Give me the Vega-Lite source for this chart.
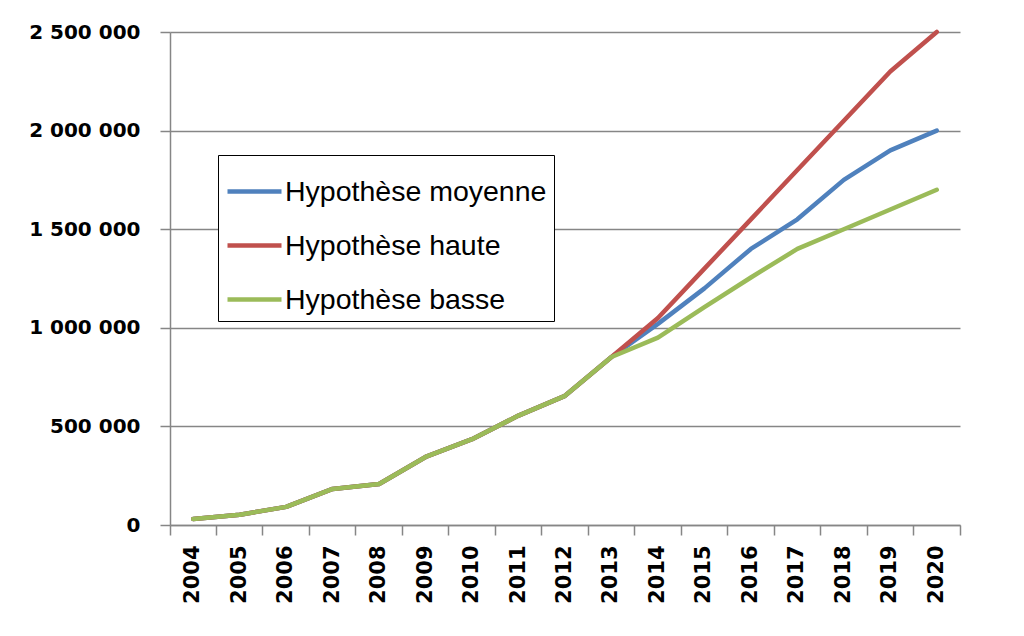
{
  "$schema": "https://vega.github.io/schema/vega-lite/v6.json",
  "width": 790,
  "height": 493,
  "autosize": {"type": "none"},
  "padding": {"left": 170, "top": 32, "right": 64, "bottom": 111},
  "background": "white",
  "data": {
    "values": [
      {"year": "2004", "series": "Hypothèse moyenne", "value": 30000},
      {"year": "2005", "series": "Hypothèse moyenne", "value": 52000},
      {"year": "2006", "series": "Hypothèse moyenne", "value": 92000},
      {"year": "2007", "series": "Hypothèse moyenne", "value": 183000},
      {"year": "2008", "series": "Hypothèse moyenne", "value": 208000},
      {"year": "2009", "series": "Hypothèse moyenne", "value": 345000},
      {"year": "2010", "series": "Hypothèse moyenne", "value": 435000},
      {"year": "2011", "series": "Hypothèse moyenne", "value": 555000},
      {"year": "2012", "series": "Hypothèse moyenne", "value": 655000},
      {"year": "2013", "series": "Hypothèse moyenne", "value": 852000},
      {"year": "2014", "series": "Hypothèse moyenne", "value": 1020000},
      {"year": "2015", "series": "Hypothèse moyenne", "value": 1200000},
      {"year": "2016", "series": "Hypothèse moyenne", "value": 1400000},
      {"year": "2017", "series": "Hypothèse moyenne", "value": 1550000},
      {"year": "2018", "series": "Hypothèse moyenne", "value": 1750000},
      {"year": "2019", "series": "Hypothèse moyenne", "value": 1900000},
      {"year": "2020", "series": "Hypothèse moyenne", "value": 2000000},
      {"year": "2004", "series": "Hypothèse haute", "value": 30000},
      {"year": "2005", "series": "Hypothèse haute", "value": 52000},
      {"year": "2006", "series": "Hypothèse haute", "value": 92000},
      {"year": "2007", "series": "Hypothèse haute", "value": 183000},
      {"year": "2008", "series": "Hypothèse haute", "value": 208000},
      {"year": "2009", "series": "Hypothèse haute", "value": 345000},
      {"year": "2010", "series": "Hypothèse haute", "value": 435000},
      {"year": "2011", "series": "Hypothèse haute", "value": 555000},
      {"year": "2012", "series": "Hypothèse haute", "value": 655000},
      {"year": "2013", "series": "Hypothèse haute", "value": 852000},
      {"year": "2014", "series": "Hypothèse haute", "value": 1050000},
      {"year": "2015", "series": "Hypothèse haute", "value": 1300000},
      {"year": "2016", "series": "Hypothèse haute", "value": 1550000},
      {"year": "2017", "series": "Hypothèse haute", "value": 1800000},
      {"year": "2018", "series": "Hypothèse haute", "value": 2050000},
      {"year": "2019", "series": "Hypothèse haute", "value": 2300000},
      {"year": "2020", "series": "Hypothèse haute", "value": 2500000},
      {"year": "2004", "series": "Hypothèse basse", "value": 30000},
      {"year": "2005", "series": "Hypothèse basse", "value": 52000},
      {"year": "2006", "series": "Hypothèse basse", "value": 92000},
      {"year": "2007", "series": "Hypothèse basse", "value": 183000},
      {"year": "2008", "series": "Hypothèse basse", "value": 208000},
      {"year": "2009", "series": "Hypothèse basse", "value": 345000},
      {"year": "2010", "series": "Hypothèse basse", "value": 435000},
      {"year": "2011", "series": "Hypothèse basse", "value": 555000},
      {"year": "2012", "series": "Hypothèse basse", "value": 655000},
      {"year": "2013", "series": "Hypothèse basse", "value": 852000},
      {"year": "2014", "series": "Hypothèse basse", "value": 950000},
      {"year": "2015", "series": "Hypothèse basse", "value": 1105000},
      {"year": "2016", "series": "Hypothèse basse", "value": 1255000},
      {"year": "2017", "series": "Hypothèse basse", "value": 1400000},
      {"year": "2018", "series": "Hypothèse basse", "value": 1500000},
      {"year": "2019", "series": "Hypothèse basse", "value": 1600000},
      {"year": "2020", "series": "Hypothèse basse", "value": 1700000}
    ]
  },
  "mark": {"type": "line", "strokeWidth": 4.5, "strokeCap": "round", "strokeJoin": "round"},
  "encoding": {
    "x": {
      "field": "year",
      "type": "ordinal",
      "scale": {"type": "band", "paddingInner": 0, "paddingOuter": 0},
      "axis": {
        "title": null,
        "bandPosition": 1,
        "tickExtra": true,
        "labelOffset": 0,
        "labelAngle": -90,
        "labelAlign": "right",
        "labelBaseline": "middle",
        "labelFont": "DejaVu Sans",
        "labelFontWeight": "bold",
        "labelFontSize": 21,
        "labelColor": "black",
        "labelPadding": 10,
        "tickSize": 10,
        "tickColor": "#868686",
        "tickWidth": 1.5,
        "domainColor": "#868686",
        "domainWidth": 1.5,
        "grid": false
      }
    },
    "y": {
      "field": "value",
      "type": "quantitative",
      "scale": {"domain": [0, 2500000], "nice": false, "zero": true},
      "axis": {
        "title": null,
        "values": [0, 500000, 1000000, 1500000, 2000000, 2500000],
        "labelExpr": "replace(replace(format(datum.value, ','), ',', ' '), ',', ' ')",
        "labelFont": "DejaVu Sans",
        "labelFontWeight": "bold",
        "labelFontSize": 20,
        "labelColor": "black",
        "labelPadding": 20,
        "tickSize": 10,
        "tickColor": "#868686",
        "tickWidth": 1.5,
        "domainColor": "#868686",
        "domainWidth": 1.5,
        "grid": true,
        "gridColor": "#868686",
        "gridWidth": 1.5
      }
    },
    "color": {
      "field": "series",
      "type": "nominal",
      "scale": {
        "domain": ["Hypothèse moyenne", "Hypothèse haute", "Hypothèse basse"],
        "range": ["#4F81BD", "#C0504D", "#9BBB59"]
      },
      "legend": {
        "title": null,
        "orient": "none",
        "legendX": 48,
        "legendY": 123,
        "symbolType": "stroke",
        "symbolSize": 2916,
        "symbolStrokeWidth": 4.5,
        "labelFont": "Liberation Sans",
        "labelFontSize": 28.5,
        "labelColor": "black",
        "labelOffset": 1,
        "labelLimit": 400,
        "rowPadding": 10,
        "padding": 7,
        "strokeColor": "black",
        "fillColor": "white"
      }
    }
  },
  "config": {
    "view": {"stroke": null}
  }
}
